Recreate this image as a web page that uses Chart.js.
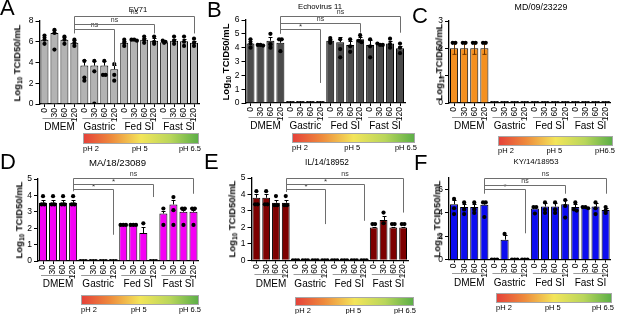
<!DOCTYPE html>
<html><head><meta charset="utf-8">
<script src="https://cdn.jsdelivr.net/npm/chart.js@4.4.1/dist/chart.umd.min.js"></script>
<style>
html,body{margin:0;padding:0;background:#fff;}
body{width:617px;height:314px;position:relative;overflow:hidden;font-family:'Liberation Sans',Arial,Helvetica,sans-serif;color:#000;}
canvas{position:absolute;left:0;top:0;pointer-events:none;}
.abs{position:absolute;white-space:nowrap;line-height:1;}
.ctr{transform:translate(-50%,-50%);}
.ytitle{position:absolute;white-space:nowrap;line-height:1;font-weight:bold;font-size:9.5px;transform:translate(-50%,-50%) rotate(-90deg);}
.ytitle sub{font-size:6.5px;vertical-align:-2px;line-height:0;}
.letter{position:absolute;line-height:1;font-size:22px;}
.grad{position:absolute;box-sizing:border-box;border:1px solid #a8a8a8;background:linear-gradient(to right,#e5423a 0%,#ee8a3c 24%,#f3e55a 50%,#b9d65b 76%,#5daf48 100%);}
.ph{position:absolute;line-height:1;font-size:7.5px;white-space:nowrap;}
</style></head><body>
<script>
// ---------- data ----------
const timeLabels = ['0','30','60','120'];
const groupNames = ['DMEM','Gastric','Fed SI','Fast SI'];
const phLabels = ['pH 2','pH 5','pH 6.5'];
const phLabelsC = ['pH 2','pH 5','pH6.5'];
const yTitleParts = ['Log','10',' TCID50/mL'];

const titleA = 'EV71';
const yMaxA = 8;
const meansA = [6.2,6.85,6.2,5.9, 3.7,3.7,3.7,3.35, 5.9,6.2,6.2,6.1, 5.95,6.1,6.05,5.9];
const errA   = [0.3,0.3,0.3,0.3, 0.5,0.45,0.45,0.45, 0.2,0.05,0.2,0.25, 0.1,0.2,0.25,0.2];
const dotsA  = [[6.6,6.2,5.8],[7.15,6.85,5.25],[6.5,6.2,5.8],[6.2,5.9,5.6],
                [4.15,2.55,2.25],[4.15,3.15,0.05],[4.15,2.8,2.8],[3.85,2.8,2.25],
                [6.2,5.9,5.6],[6.2,6.2,6.1],[6.5,6.2,5.9],[6.5,6.0,5.8],
                [6.1,6.0,5.9],[6.5,6.1,5.8],[6.5,6.0,5.6],[6.3,5.9,5.6]];
const bracketsA = [[3,7,7.2,3.65,'ns'],[3,11,7.75,6.8,'ns'],[3,15,8.45,6.8,'ns']];
const legA = 6.8;

const titleB = 'Echovirus 11';
const yMaxB = 6;
const meansB = [4.3,4.2,4.5,4.35, 0,0,0,0, 4.5,4.4,4.2,4.6, 4.2,4.25,4.3,3.95];
const errB   = [0.2,0.05,0.3,0.25, 0,0,0,0, 0.15,0.4,0.3,0.15, 0.35,0.05,0.2,0.2];
const dotsB  = [[4.6,4.3,4.0],[4.2,4.2,4.15],[5.0,4.25,4.0],[4.6,4.6,3.75],
                [0,0,0],[0,0,0],[0,0,0],[0,0,0],
                [4.7,4.5,4.35],[4.6,3.9,3.3],[4.6,4.1,3.7],[4.9,4.5,4.4],
                [4.6,4.1,3.3],[4.3,4.2,4.2],[4.65,4.25,4.0],[4.3,4.0,3.6]];
const bracketsB = [[3,7,5.33,1.45,'*'],[3,11,5.76,5.08,'ns'],[3,15,6.32,5.08,'ns']];
const legB = 5.0;

const titleC = 'MD/09/23229';
const yMaxC = 3;
const meansC = [2,2,2,2, 0,0,0,0, 0,0,0,0, 0,0,0,0];
const errC   = [0.22,0.22,0.22,0.22, 0,0,0,0, 0,0,0,0, 0,0,0,0];
const dotsC  = [[2.2,2.2],[2.2,2.2],[2.2,2.2],[2.2,2.2],
                [0,0,0],[0,0,0],[0,0,0],[0,0,0],
                [0,0,0],[0,0,0],[0,0,0],[0,0,0],
                [0,0,0],[0,0,0],[0,0,0],[0,0,0]];
const bracketsC = [];
const legC = 0;

const titleD = 'MA/18/23089';
const yMaxD = 5;
const meansD = [3.55,3.55,3.55,3.55, 0,0,0,0, 2.2,2.2,1.7,0, 2.9,3.45,3.0,3.0];
const errD   = [0.15,0.15,0.15,0.15, 0,0,0,0, 0,0,0.35,0, 0.12,0.3,0.1,0.1];
const dotsD  = [[3.95,3.45,3.45],[3.95,3.45,3.45],[3.95,3.45,3.45],[3.95,3.45,3.45],
                [0,0,0],[0,0,0],[0,0,0],[0,0,0],
                [2.2,2.2,2.2],[2.2,2.2,2.2],[2.3],[0,0,0],
                [3.2,2.2],[3.9,3.1,2.2],[3.2,3.2,2.2],[3.2,3.2,2.2]];
const bracketsD = [[3,7,4.37,1.6,'*'],[3,11,4.7,3.9,'*'],[3,15,5.04,4.1,'ns']];
const legD = 4.25;

const titleE = 'IL/14/18952';
const yMaxE = 5;
const meansE = [3.8,3.8,3.5,3.5, 0,0,0,0, 0,0,0,0, 2.0,2.45,2.0,2.0];
const errE   = [0.2,0.25,0.15,0.15, 0,0,0,0, 0,0,0,0, 0.03,0.25,0.03,0.03];
const dotsE  = [[4.2,3.4,3.4],[4.2,3.4,3.4],[3.9,3.35,3.35],[3.9,3.35,3.35],
                [0,0,0],[0,0,0],[0,0,0],[0,0,0],
                [0,0,0],[0,0,0],[0,0,0],[0,0,0],
                [2.2,2.2],[2.9,2.25],[2.2,2.2],[2.2,2.2]];
const bracketsE = [[3,7,4.31,2.2,'*'],[3,11,4.66,2.4,'*'],[3,15,5.0,2.9,'ns']];
const legE = 4.15;

const titleF = 'KY/14/18953';
const yMaxF = 7;
const meansF = [4.75,4.5,4.5,4.7, 0,1.7,0,0, 4.38,4.55,4.55,4.75, 4.5,4.5,4.55,4.25];
const errF   = [0.35,0.3,0.3,0.3, 0,0.4,0,0, 0.15,0.3,0.3,0.35, 0.25,0.05,0.3,0.2];
const dotsF  = [[5.2,4.4,3.9],[4.9,4.3,3.9],[4.9,4.3,4.0],[4.9,4.9,3.65],
                [0,0,0],[2.2],[0,0,0],[0,0,0],
                [4.5,4.5,3.95],[4.9,4.3,4.0],[4.9,4.3,4.0],[5.1,4.6,3.6],
                [4.9,4.3,4.2],[4.5,4.5,4.4],[4.9,4.4,3.9],[4.5,4.2,4.0]];
const bracketsF = [[3,7,6.02,2.25,'*'],[3,11,6.44,5.65,'ns'],[3,15,6.98,5.65,'ns']];
const legF = 5.65;

// ---------- layout / style ----------
const panels = [
 {letter:'A', title:titleA, ymax:yMaxA, means:meansA, err:errA, dots:dotsA, brackets:bracketsA, leg:legA, ph:phLabels,
  color:'#b3b3b3', box:{l:39.5,r:199,t:21,b:104}, tpos:{x:138,y:10,s:7.6}, yt:17, lpos:{x:0,y:-3},
  grad:{x:83,y:133,w:116,h:11}},
 {letter:'B', title:titleB, ymax:yMaxB, means:meansB, err:errB, dots:dotsB, brackets:bracketsB, leg:legB, ph:phLabels,
  color:'#4b4b4b', box:{l:245.5,r:405,t:20,b:103}, tpos:{x:320,y:6.5,s:7.7}, yt:226, lpos:{x:207,y:-1},
  grad:{x:292,y:133,w:123,h:10}},
 {letter:'C', title:titleC, ymax:yMaxC, means:meansC, err:errC, dots:dotsC, brackets:bracketsC, leg:legC, ph:phLabelsC,
  color:'#f5901f', errBoth:true, errColor:'#6e3600', box:{l:449,r:613,t:21,b:103}, tpos:{x:541,y:7,s:8.8}, yt:439, lpos:{x:412,y:5},
  grad:{x:498,y:136,w:115,h:10}},
 {letter:'D', title:titleD, ymax:yMaxD, means:meansD, err:errD, dots:dotsD, brackets:bracketsD, leg:legD, ph:phLabels,
  color:'#f500f5', box:{l:38,r:198.5,t:179,b:261}, tpos:{x:117.5,y:163,s:9.6}, yt:19, lpos:{x:0,y:151},
  grad:{x:81,y:295,w:118,h:10}},
 {letter:'E', title:titleE, ymax:yMaxE, means:meansE, err:errE, dots:dotsE, brackets:bracketsE, leg:legE, ph:phLabels,
  color:'#7d0000', box:{l:251.5,r:408,t:178,b:260.3}, tpos:{x:327,y:162,s:8.3}, yt:232, lpos:{x:204,y:151},
  grad:{x:295,y:297,w:119,h:9}},
 {letter:'F', title:titleF, ymax:yMaxF, means:meansF, err:errF, dots:dotsF, brackets:bracketsF, leg:legF, ph:phLabels,
  color:'#0c0cf0', box:{l:449,r:611.5,t:178,b:259.5}, tpos:{x:536,y:162,s:7.8}, yt:437, lpos:{x:414,y:152},
  grad:{x:496,y:293,w:116,h:10}}
];

Chart.defaults.font.family = "'Liberation Sans', Arial, Helvetica, sans-serif";
Chart.defaults.color = '#000';

const xLabels = groupNames.flatMap(() => timeLabels);

function jitter(vals){
  const out = new Array(vals.length).fill(0);
  const used = new Array(vals.length).fill(false);
  for (let i=0;i<vals.length;i++){
    if (used[i]) continue;
    const cl=[i]; used[i]=true;
    for (let j=i+1;j<vals.length;j++){
      if(!used[j] && Math.abs(vals[j]-vals[i])<0.12){cl.push(j);used[j]=true;}
    }
    cl.forEach((idx,n)=>{ out[idx]=(n-(cl.length-1)/2)*0.27; });
  }
  return out;
}

const deco = {
  id:'deco',
  afterDatasetDraw(chart, args, opts){
    if (args.meta.type !== 'bar') return;
    const p = opts.panel, xs = chart.scales.x, ys = chart.scales.y, ctx = chart.ctx;
    ctx.save();
    ctx.strokeStyle = p.errColor || '#000';
    ctx.lineWidth = 1;
    p.means.forEach((m,i)=>{
      const e = p.err[i]; if(!e) return;
      const cx = Math.round(xs.getPixelForValue(i)) + 0.5;
      const y0 = ys.getPixelForValue(p.errBoth ? m - e : m);
      const y1 = Math.round(ys.getPixelForValue(m + e)) + 0.5;
      ctx.beginPath();
      ctx.moveTo(cx, y0); ctx.lineTo(cx, y1);
      ctx.moveTo(cx-2, y1); ctx.lineTo(cx+2, y1);
      if (p.errBoth){ ctx.moveTo(cx-2, y0); ctx.lineTo(cx+2, y0); }
      ctx.stroke();
    });
    ctx.restore();
  },
  afterDraw(chart, args, opts){
    const p = opts.panel, xs = chart.scales.x, ys = chart.scales.y, ctx = chart.ctx;
    const cw = (xs.right - xs.left) / xLabels.length;
    ctx.save();
    if (p.brackets.length){
      ctx.strokeStyle = '#6e6e6e'; ctx.lineWidth = 1;
      const lx = Math.round(xs.getPixelForValue(p.brackets[0][0])) + 0.5;
      const top = Math.max(...p.brackets.map(b=>b[2]));
      ctx.beginPath();
      ctx.moveTo(lx, ys.getPixelForValue(p.leg));
      ctx.lineTo(lx, Math.round(ys.getPixelForValue(top))+0.5);
      ctx.stroke();
      p.brackets.forEach(b=>{
        const rx = Math.round(xs.getPixelForValue(b[1])) + 0.5;
        const yy = Math.round(ys.getPixelForValue(b[2])) + 0.5;
        ctx.beginPath();
        ctx.moveTo(lx, yy); ctx.lineTo(rx, yy); ctx.lineTo(rx, ys.getPixelForValue(b[3]));
        ctx.stroke();
        ctx.fillStyle = '#333';
        ctx.font = (b[4]==='*' ? '8px ' : '7px ') + Chart.defaults.font.family;
        ctx.textAlign = 'center'; ctx.textBaseline = 'bottom';
        ctx.fillText(b[4], (lx+rx)/2, yy - (b[4]==='*' ? -1.5 : 0.5));
      });
    }
    groupNames.forEach((g,k)=>{
      const gs = xs.left + k*4*cw, ge = gs + 4*cw;
      const uy = Math.round(xs.top + 13.5) + 0.5;
      ctx.strokeStyle = '#9a9a9a'; ctx.lineWidth = 1;
      ctx.beginPath(); ctx.moveTo(gs + 0.3*cw, uy); ctx.lineTo(ge - 0.5*cw, uy); ctx.stroke();
      ctx.fillStyle = '#000';
      ctx.font = '10px ' + Chart.defaults.font.family;
      ctx.textAlign = 'center'; ctx.textBaseline = 'middle';
      ctx.fillText(g, (gs+ge)/2, xs.top + 23.5);
    });
    ctx.restore();
  }
};

function addDiv(cls, html, style){
  const d = document.createElement('div');
  d.className = cls; d.innerHTML = html;
  Object.assign(d.style, style);
  document.body.appendChild(d);
  return d;
}

panels.forEach(p=>{
  const cv = document.createElement('canvas');
  cv.width = 617; cv.height = 314;
  cv.style.width = '617px'; cv.style.height = '314px';
  document.body.appendChild(cv);

  const dotData = p.dots.flatMap((arr,i)=>{
    const o = jitter(arr);
    return arr.map((v,k)=>({x:i+o[k], y:v}));
  });

  new Chart(cv, {
    type:'bar',
    data:{
      labels: xLabels,
      datasets:[
        {type:'bar', data:p.means, backgroundColor:p.color, borderColor:'#000', borderWidth:1,
         barPercentage:0.8, categoryPercentage:1, grouped:false, order:2},
        {type:'scatter', data:dotData, xAxisID:'x2', yAxisID:'y', backgroundColor:'#000', borderColor:'#000',
         pointRadius:2.1, pointBorderWidth:0, pointHoverRadius:2.1, order:1}
      ]
    },
    options:{
      responsive:false, animation:false, events:[],
      layout:{padding:{left:p.box.l-30, right:617-p.box.r, top:p.box.t, bottom:314-p.box.b-30}},
      plugins:{legend:{display:false}, tooltip:{enabled:false}, title:{display:false}, deco:{panel:p}},
      scales:{
        x:{type:'category', offset:true,
           afterFit:s=>{s.height=30;},
           grid:{display:true, drawOnChartArea:false, drawTicks:true, tickLength:3, tickColor:'#000', tickWidth:1, offset:false},
           border:{display:true, color:'#000', width:1.3},
           ticks:{autoSkip:false, maxRotation:90, minRotation:90, padding:1, color:'#000', font:{size:8.5}}},
        x2:{type:'linear', display:false, offset:false, grid:{offset:false}, bounds:'data', min:-0.5, max:15.5},
        y:{min:0, max:p.ymax,
           afterFit:s=>{s.width=30;},
           grid:{display:true, drawOnChartArea:false, drawTicks:true, tickLength:4, tickColor:'#000', tickWidth:1},
           border:{display:true, color:'#000', width:1.3},
           ticks:{stepSize:1, padding:2, color:'#000', font:{size:8.5}}}
      }
    },
    plugins:[deco]
  });

  addDiv('letter', p.letter, {left:p.lpos.x+'px', top:p.lpos.y+'px'});
  addDiv('abs ctr', p.title, {left:p.tpos.x+'px', top:p.tpos.y+'px', fontSize:p.tpos.s+'px'});
  addDiv('ytitle', yTitleParts[0]+'<sub>'+yTitleParts[1]+'</sub>'+yTitleParts[2],
         {left:p.yt+'px', top:((p.box.t+p.box.b)/2)+'px'});
  addDiv('grad', '', {left:p.grad.x+'px', top:p.grad.y+'px', width:p.grad.w+'px', height:p.grad.h+'px'});
  const ly = p.grad.y + p.grad.h + 0.5;
  addDiv('ph', p.ph[0], {left:p.grad.x+'px', top:ly+'px'});
  addDiv('ph', p.ph[1], {left:(p.grad.x + 0.49*p.grad.w)+'px', top:ly+'px', transform:'translateX(-50%)'});
  addDiv('ph', p.ph[2], {left:(p.grad.x + p.grad.w + 2)+'px', top:ly+'px', transform:'translateX(-100%)'});
});
</script>
</body></html>
